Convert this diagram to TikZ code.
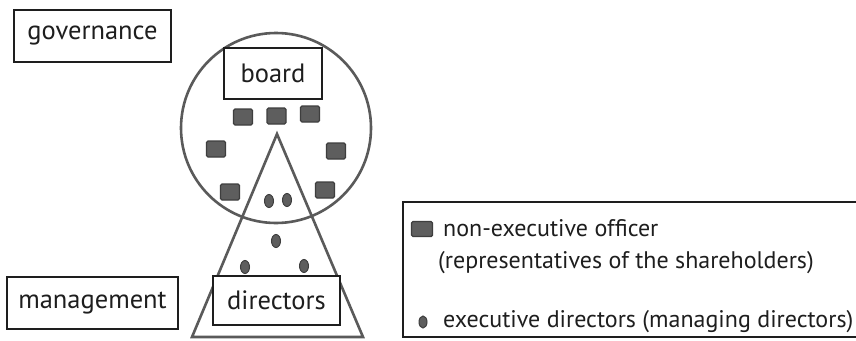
\documentclass[tikz,border=0pt]{standalone}
\usetikzlibrary{shapes.geometric}
\usepackage{fontspec}
\setmainfont{PT Sans}
\definecolor{ink}{HTML}{1E1E1E}
\definecolor{lineg}{HTML}{5A5A5A}
\definecolor{sqfill}{HTML}{5E5E5E}
\definecolor{sqedge}{HTML}{3E3E3E}
\begin{document}
\begin{tikzpicture}[x=1pt,y=-1pt,
  lbox/.style={draw=ink, line width=1.6pt, fill=white, text=ink, inner sep=0pt,
    font=\fontsize{26.5}{30}\selectfont},
  ltext/.style={text=ink, inner sep=0pt, anchor=west, font=\fontsize{24}{28}\selectfont},
  officer/.style={rectangle, rounded corners=1.5pt, draw=sqedge, line width=1.4pt, fill=sqfill,
    minimum width=19pt, minimum height=16pt, inner sep=0pt},
  execdot/.style={ellipse, draw=sqedge, line width=1pt, fill=sqfill,
    minimum width=9pt, minimum height=13pt, inner sep=0pt},
  outline/.style={draw=lineg, line width=2.6pt}
]
\useasboundingbox (0,0) rectangle (856,340);
\fill[white] (0,0) rectangle (856,340);

% circle and triangle
\node[circle, outline, minimum size=190pt, inner sep=0pt] (wheel) at (276,128) {};
\coordinate (apex) at (277,134);
\coordinate (bl) at (192,337);
\coordinate (br) at (363,337);
\draw[outline, line join=miter] (apex) -- (bl) -- (br) -- cycle;

% non-executive officers
\node[officer] (o1) at (243,117) {};
\node[officer] (o2) at (276.5,116) {};
\node[officer] (o3) at (310,114) {};
\node[officer] (o4) at (216,149) {};
\node[officer] (o5) at (336,151) {};
\node[officer] (o6) at (230,192) {};
\node[officer] (o7) at (325,190) {};

% executive directors
\node[execdot] (e1) at (269,201) {};
\node[execdot] (e2) at (287,200) {};
\node[execdot] (e3) at (276,241) {};
\node[execdot] (e4) at (245,267) {};
\node[execdot] (e5) at (304,266) {};

% label boxes
\node[lbox, minimum width=157pt, minimum height=52pt] (gov) at (92.5,36) {governance};
\node[lbox, minimum width=98pt, minimum height=51pt] (board) at (273,73.5) {board};
\node[lbox, minimum width=171pt, minimum height=52pt] (mgmt) at (92.5,303) {management};
\node[lbox, minimum width=127pt, minimum height=49pt] (dirs) at (276.5,300.5) {directors};

% legend
\node[draw=ink, line width=1.6pt, minimum width=457pt, minimum height=135pt, inner sep=0pt] (legend) at (631.5,269.5) {};
\node[officer, minimum width=21pt, minimum height=15pt] (lsq) at (422,229) {};
\node[ltext] (t1) at (443,228) {non-executive officer};
\node[ltext] (t2) at (438,263) {(representatives of the shareholders)};
\node[execdot, minimum width=8pt, minimum height=12pt] (ldot) at (423,322) {};
\node[ltext] (t3) at (443,322) {executive directors (managing directors)};
\end{tikzpicture}
\end{document}
